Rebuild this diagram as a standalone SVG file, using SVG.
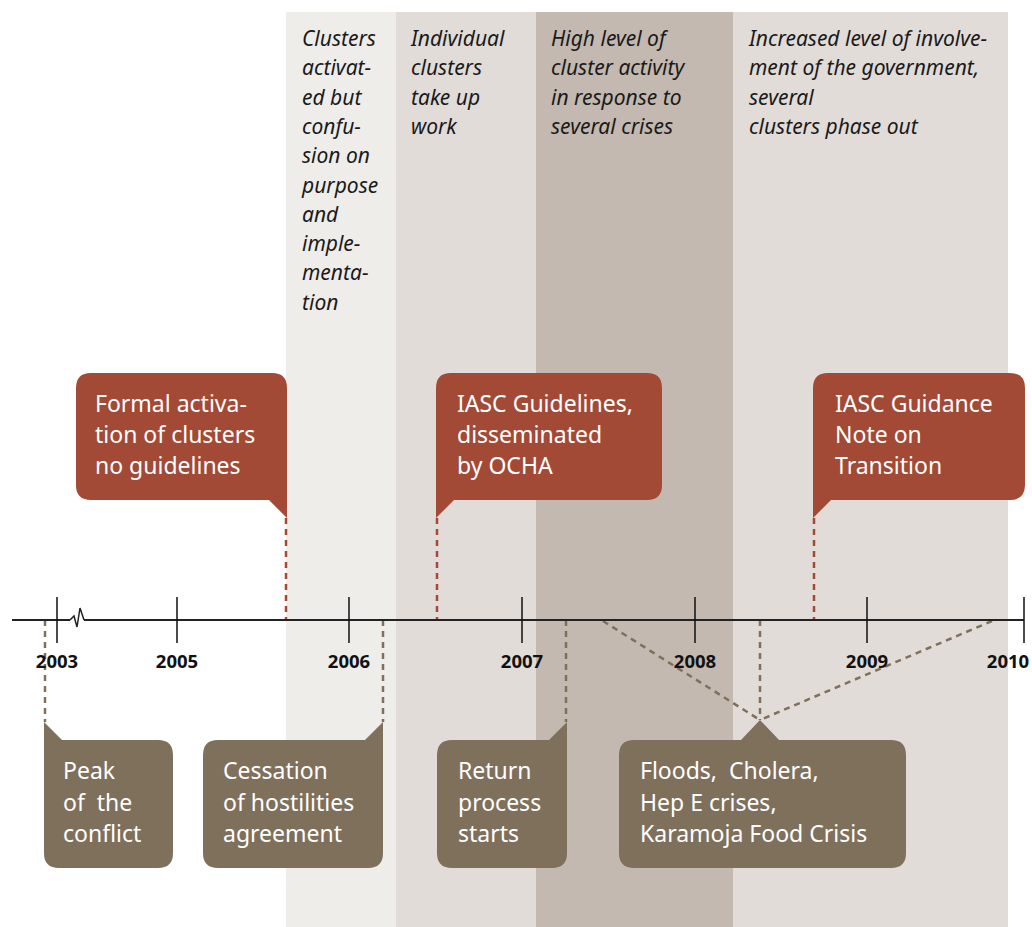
<svg xmlns="http://www.w3.org/2000/svg" width="1032" height="927" viewBox="0 0 1032 927">
<style>
.band{font-family:"Noto Sans","Open Sans",sans-serif;font-style:italic;font-size:21px;fill:#1a1a1a}
.ct{font-family:"Noto Sans","Open Sans",sans-serif;font-size:23px;fill:#ffffff}
.yr{font-family:"Open Sans","Noto Sans",sans-serif;font-weight:bold;font-size:18.5px;fill:#111;text-anchor:middle}
.red{fill:#a34a37}
.brn{fill:#7f705c}
.rdash{stroke:#a34a37;stroke-width:2.5;stroke-dasharray:6,5;fill:none}
.bdash{stroke:#7f705c;stroke-width:2.5;stroke-dasharray:6,5;fill:none}
.tick{stroke:#111;stroke-width:1.5}
</style>
<rect width="1032" height="927" fill="#ffffff"/>
<g id="bands">
<rect x="286" y="12" width="110" height="915" fill="#efedea"/>
<rect x="396" y="12" width="140" height="915" fill="#e1dcd8"/>
<rect x="536" y="12" width="197" height="915" fill="#c3b9b0"/>
<rect x="733" y="12" width="275" height="915" fill="#e1dcd8"/>
<text class="band" x="302" y="46"><tspan x="302">Clusters</tspan><tspan x="302" dy="29.3">activat-</tspan><tspan x="302" dy="29.3">ed but</tspan><tspan x="302" dy="29.3">confu-</tspan><tspan x="302" dy="29.3">sion on</tspan><tspan x="302" dy="29.3">purpose</tspan><tspan x="302" dy="29.3">and</tspan><tspan x="302" dy="29.3">imple-</tspan><tspan x="302" dy="29.3">menta-</tspan><tspan x="302" dy="29.3">tion</tspan></text>
<text class="band" x="411" y="46"><tspan x="411">Individual</tspan><tspan x="411" dy="29.3">clusters</tspan><tspan x="411" dy="29.3">take up</tspan><tspan x="411" dy="29.3">work</tspan></text>
<text class="band" x="551" y="46"><tspan x="551">High level of</tspan><tspan x="551" dy="29.3">cluster activity</tspan><tspan x="551" dy="29.3">in response to</tspan><tspan x="551" dy="29.3">several crises</tspan></text>
<text class="band" x="749" y="46"><tspan x="749">Increased level of involve-</tspan><tspan x="749" dy="29.3">ment of the government,</tspan><tspan x="749" dy="29.3">several</tspan><tspan x="749" dy="29.3">clusters phase out</tspan></text>
</g>
<g id="connectors">
<line class="rdash" x1="286" y1="518" x2="286" y2="620"/>
<line class="rdash" x1="437" y1="518" x2="437" y2="620"/>
<line class="rdash" x1="814" y1="518" x2="814" y2="620"/>
<line class="bdash" x1="45" y1="620" x2="45" y2="722"/>
<line class="bdash" x1="383" y1="620" x2="383" y2="722"/>
<line class="bdash" x1="566" y1="620" x2="566" y2="722"/>
<line class="bdash" x1="760" y1="620" x2="760" y2="720"/>
<line class="bdash" x1="603" y1="621" x2="760" y2="720"/>
<line class="bdash" x1="992" y1="621" x2="760" y2="720"/>
</g>
<g id="axis">
<line x1="12" y1="620" x2="70" y2="620" stroke="#222" stroke-width="2"/>
<polyline points="70,620 74,616 77,627 80,608 84,620" fill="none" stroke="#222" stroke-width="1.5"/>
<line x1="84" y1="620" x2="1024" y2="620" stroke="#222" stroke-width="2"/>
<line class="tick" x1="57" y1="597" x2="57" y2="643"/>
<line class="tick" x1="177" y1="597" x2="177" y2="643"/>
<line class="tick" x1="349" y1="597" x2="349" y2="643"/>
<line class="tick" x1="522" y1="597" x2="522" y2="643"/>
<line class="tick" x1="695" y1="597" x2="695" y2="643"/>
<line class="tick" x1="867" y1="597" x2="867" y2="643"/>
<line class="tick" x1="1024" y1="597" x2="1024" y2="643"/>
<text class="yr" x="57" y="668">2003</text>
<text class="yr" x="177" y="668">2005</text>
<text class="yr" x="349" y="668">2006</text>
<text class="yr" x="522" y="668">2007</text>
<text class="yr" x="695" y="668">2008</text>
<text class="yr" x="867" y="668">2009</text>
<text class="yr" x="1008" y="668">2010</text>
</g>
<g id="node-formal">
<path class="red" d="M91,373 H272 Q287,373 287,388 V518 L269,500 H91 Q76,500 76,485 V388 Q76,373 91,373 Z"/>
<text class="ct" x="95" y="412"><tspan x="95">Formal activa-</tspan><tspan x="95" dy="31">tion of clusters</tspan><tspan x="95" dy="31">no guidelines</tspan></text>
</g>
<g id="node-iasc-guidelines">
<path class="red" d="M451,373 H647 Q662,373 662,388 V485 Q662,500 647,500 H454 L436,518 V388 Q436,373 451,373 Z"/>
<text class="ct" x="457" y="412"><tspan x="457">IASC Guidelines,</tspan><tspan x="457" dy="31">disseminated</tspan><tspan x="457" dy="31">by OCHA</tspan></text>
</g>
<g id="node-iasc-guidance">
<path class="red" d="M828,373 H1010 Q1025,373 1025,388 V485 Q1025,500 1010,500 H831 L813,518 V388 Q813,373 828,373 Z"/>
<text class="ct" x="835" y="412"><tspan x="835">IASC Guidance</tspan><tspan x="835" dy="31">Note on</tspan><tspan x="835" dy="31">Transition</tspan></text>
</g>
<g id="node-peak">
<path class="brn" d="M44,722 L62,740 H158 Q173,740 173,755 V853 Q173,868 158,868 H59 Q44,868 44,853 Z"/>
<text class="ct" x="63" y="779" xml:space="preserve"><tspan x="63">Peak</tspan><tspan x="63" dy="31.5">of  the</tspan><tspan x="63" dy="31.5">conflict</tspan></text>
</g>
<g id="node-cessation">
<path class="brn" d="M218,740 H365 L383,722 V853 Q383,868 368,868 H218 Q203,868 203,853 V755 Q203,740 218,740 Z"/>
<text class="ct" x="223" y="779"><tspan x="223">Cessation</tspan><tspan x="223" dy="31.5">of hostilities</tspan><tspan x="223" dy="31.5">agreement</tspan></text>
</g>
<g id="node-return">
<path class="brn" d="M452,740 H549 L567,722 V853 Q567,868 552,868 H452 Q437,868 437,853 V755 Q437,740 452,740 Z"/>
<text class="ct" x="458" y="779"><tspan x="458">Return</tspan><tspan x="458" dy="31.5">process</tspan><tspan x="458" dy="31.5">starts</tspan></text>
</g>
<g id="node-floods">
<path class="brn" d="M634,740 H741 L760,720 L779,740 H891 Q906,740 906,755 V853 Q906,868 891,868 H634 Q619,868 619,853 V755 Q619,740 634,740 Z"/>
<text class="ct" x="640" y="779" xml:space="preserve"><tspan x="640">Floods,  Cholera,</tspan><tspan x="640" dy="31.5">Hep E crises,</tspan><tspan x="640" dy="31.5">Karamoja Food Crisis</tspan></text>
</g>
</svg>
